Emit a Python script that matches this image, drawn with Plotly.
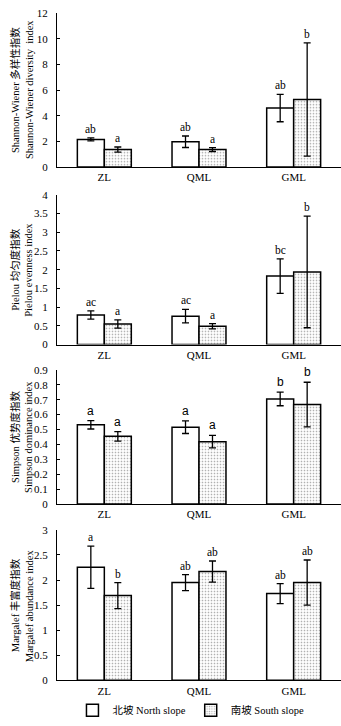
import plotly.graph_objects as go

categories = ["ZL", "QML", "GML"]

# Shannon-Wiener
sw_north = [2.15, 1.97, 4.60]
sw_north_err = [0.12, 0.45, 1.07]
sw_south = [1.36, 1.36, 5.27]
sw_south_err = [0.20, 0.15, 4.42]
sw_north_lab = ["ab", "ab", "ab"]
sw_south_lab = ["a", "a", "b"]

# Pielou
pe_north = [0.79, 0.76, 1.83]
pe_north_err = [0.11, 0.18, 0.46]
pe_south = [0.55, 0.49, 1.94]
pe_south_err = [0.11, 0.07, 1.49]
pe_north_lab = ["ac", "ac", "bc"]
pe_south_lab = ["a", "a", "b"]

# Simpson
si_north = [0.531, 0.515, 0.705]
si_north_err = [0.028, 0.042, 0.046]
si_south = [0.454, 0.418, 0.667]
si_south_err = [0.032, 0.042, 0.150]
si_north_lab = ["a", "a", "b"]
si_south_lab = ["a", "a", "b"]

# Margalef
ma_north = [2.255, 1.95, 1.73]
ma_north_err = [0.42, 0.16, 0.20]
ma_south = [1.69, 2.17, 1.95]
ma_south_err = [0.26, 0.21, 0.45]
ma_north_lab = ["a", "ab", "ab"]
ma_south_lab = ["b", "ab", "ab"]

y_titles_cn = [
    "Shannon-Wiener 多样性指数",
    "Pielou 均匀度指数",
    "Simpson 优势度指数",
    "Margalef 丰富度指数",
]
y_titles_en = [
    "Shannon-Wiener diversity  index",
    "Pielou evenness index",
    "Simpson dominance index",
    "Margalef abundance index",
]
y_ranges = [(0, 12, 2), (0, 4, 0.5), (0, 0.9, 0.1), (0, 3, 0.5)]
legend_names = ["北坡 North slope", "南坡 South slope"]

panels = [
    (sw_north, sw_north_err, sw_south, sw_south_err, sw_north_lab, sw_south_lab),
    (pe_north, pe_north_err, pe_south, pe_south_err, pe_north_lab, pe_south_lab),
    (si_north, si_north_err, si_south, si_south_err, si_north_lab, si_south_lab),
    (ma_north, ma_north_err, ma_south, ma_south_err, ma_north_lab, ma_south_lab),
]

W, H = 341, 726
# plot area pixel extents (top, bottom)
pix = [(7.3, 163.7), (192, 344.3), (370, 506.3), (532.7, 685.7)]
x_left = 57

SERIF = "Liberation Serif, Times New Roman, serif"
SERIF_CJK = "Liberation Serif, Noto Sans CJK SC, serif"
SANS = "Liberation Sans, Arial, sans-serif"

fig = go.Figure()
annotations = []
bar_w_px = 27

for i, (nm, ne, sm, se, nl, sl) in enumerate(panels):
    k = "" if i == 0 else str(i + 1)
    xa, ya = "x" + k, "y" + k
    fig.add_trace(go.Bar(
        x=categories, y=nm, xaxis=xa, yaxis=ya, name=legend_names[0],
        marker=dict(color="white", line=dict(color="black", width=1.5)),
        error_y=dict(type="data", array=ne, color="black", thickness=1.3, width=3.5),
        showlegend=(i == 3), legendgroup="n",
    ))
    fig.add_trace(go.Bar(
        x=categories, y=sm, xaxis=xa, yaxis=ya, name=legend_names[1],
        marker=dict(color="white", line=dict(color="black", width=1.5),
                    pattern=dict(shape=".", size=3, solidity=0.25,
                                 fgcolor="#555555", bgcolor="white")),
        error_y=dict(type="data", array=se, color="black", thickness=1.3, width=3.5),
        showlegend=(i == 3), legendgroup="s",
    ))
    top, bot = pix[i]
    dom = [1 - bot / H, 1 - top / H]
    r0, r1, dt = y_ranges[i]
    fig.layout["yaxis" + k] = dict(
        domain=dom, range=[r0, r1], dtick=dt, anchor=xa,
        showline=True, linecolor="black", linewidth=1.2,
        ticks="inside", ticklen=3, tickcolor="black", showgrid=False,
        zeroline=False, tickfont=dict(family=SERIF, size=11, color="black"),
        ticklabelstandoff=6,
    )
    fig.layout["xaxis" + k] = dict(
        domain=[x_left / W, 1.0], anchor=ya,
        showline=True, linecolor="black", linewidth=1.2,
        ticks="", showgrid=False, zeroline=False,
        tickfont=dict(family=SERIF, size=11, color="black"),
        ticklabelstandoff=0,
    )
    yc = 1 - (top + bot) / 2 / H
    annotations.append(dict(
        text=y_titles_cn[i], xref="paper", yref="paper", x=15 / W,
        y=yc, xanchor="center", yanchor="middle",
        textangle=-90, showarrow=False,
        font=dict(family=SERIF_CJK, size=10.5, color="black"),
    ))
    annotations.append(dict(
        text=y_titles_en[i], xref="paper", yref="paper", x=29 / W,
        y=yc, xanchor="center", yanchor="middle",
        textangle=-90, showarrow=False,
        font=dict(family=SERIF, size=10.5, color="black"),
    ))
    lab_font = dict(family=SANS if i == 2 else SERIF, size=12 if i == 2 else 11.5, color="black")
    for j, c in enumerate(categories):
        annotations.append(dict(
            text=nl[j], x=c, y=nm[j] + ne[j], xref=xa, yref=ya,
            xshift=-bar_w_px / 2, yshift=1, xanchor="center", yanchor="bottom",
            showarrow=False, font=lab_font,
        ))
        annotations.append(dict(
            text=sl[j], x=c, y=sm[j] + se[j], xref=xa, yref=ya,
            xshift=bar_w_px / 2, yshift=1, xanchor="center", yanchor="bottom",
            showarrow=False, font=lab_font,
        ))

fig.update_layout(
    width=W, height=H, margin=dict(l=0, r=0, t=0, b=0),
    plot_bgcolor="white", paper_bgcolor="white",
    barmode="group", bargap=0.43, bargroupgap=0,
    annotations=annotations,
    legend=dict(orientation="h", x=0.56, xanchor="center", y=1 - 716 / H,
                yanchor="middle", font=dict(family=SERIF_CJK, size=10.5, color="black"),
                itemwidth=30, traceorder="normal", bgcolor="rgba(0,0,0,0)"),
)

fig.write_html("out.html")
